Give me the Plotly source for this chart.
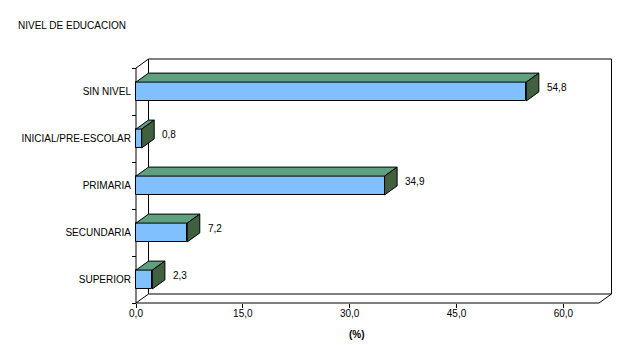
import plotly.graph_objects as go

# Education level distribution (%)
categories = ["SIN NIVEL", "INICIAL/PRE-ESCOLAR", "PRIMARIA", "SECUNDARIA", "SUPERIOR"]
values = [54.8, 0.8, 34.9, 7.2, 2.3]
x_ticks = [0, 15, 30, 45, 60]
x_tick_labels = ["0,0", "15,0", "30,0", "45,0", "60,0"]
x_max = 65

FONT = "Liberation Sans, Arial, sans-serif"
FRONT = "#80C0FF"
TOP = "#5FA080"
SIDE = "#406040"

W, H = 627, 345
# plot area in pixels (slightly padded around the 3D box)
PL, PR, PT, PB = 133, 615, 56, 306
FRONT_LEFT, FRONT_BOTTOM = 136, 303
FRONT_RIGHT, FRONT_TOP = 599, 68

kx = (FRONT_RIGHT - FRONT_LEFT) / x_max          # px per % unit
n = len(categories)
ky = (FRONT_BOTTOM - FRONT_TOP) / n               # px per category
DX = 12.5 / kx                                    # depth offset in data units
DY = 9.0 / ky

x_range = [(PL - FRONT_LEFT) / kx, (PR - FRONT_LEFT) / kx]
y_range = [-0.5 - (PB - FRONT_BOTTOM) / ky, n - 0.5 + (FRONT_TOP - PT) / ky]

# categories listed top to bottom; y position increases upward
ypos = [n - 1 - i for i in range(n)]
half = 0.2

fig = go.Figure()

# front faces
fig.add_trace(go.Bar(
    x=values, y=ypos, orientation="h", width=2 * half,
    marker=dict(color=FRONT, line=dict(color="black", width=1)),
    hoverinfo="skip", showlegend=False,
))

# top and side faces
for v, y in zip(values, ypos):
    top_x = [0, v, v + DX, DX, 0]
    top_y = [y + half, y + half, y + half + DY, y + half + DY, y + half]
    fig.add_trace(go.Scatter(
        x=top_x, y=top_y, mode="lines", fill="toself", fillcolor=TOP,
        line=dict(color="black", width=1), hoverinfo="skip", showlegend=False,
    ))
    side_x = [v, v + DX, v + DX, v, v]
    side_y = [y - half, y - half + DY, y + half + DY, y + half, y - half]
    fig.add_trace(go.Scatter(
        x=side_x, y=side_y, mode="lines", fill="toself", fillcolor=SIDE,
        line=dict(color="black", width=1), hoverinfo="skip", showlegend=False,
    ))

# walls and floor of the 3D box
y0, y1 = -0.5, n - 0.5
box_lines = [
    (DX, y0 + DY, x_max + DX, y0 + DY),           # back wall bottom
    (DX, y1 + DY, x_max + DX, y1 + DY),           # back wall top
    (DX, y0 + DY, DX, y1 + DY),                   # back wall left
    (x_max + DX, y0 + DY, x_max + DX, y1 + DY),   # back wall right
    (0, y0, x_max, y0),                           # floor front edge
    (x_max, y0, x_max + DX, y0 + DY),             # floor right edge
    (0, y0, DX, y0 + DY),                         # side wall bottom
    (0, y1, DX, y1 + DY),                         # side wall top
    (0, y0, 0, y1),                               # value axis line
]
for a, b, c, d in box_lines:
    fig.add_shape(type="line", x0=a, y0=b, x1=c, y1=d, xref="x", yref="y",
                  line=dict(color="black", width=1), layer="below")

# value labels
for v, y in zip(values, ypos):
    fig.add_annotation(
        x=v + DX, y=y + DY / 2, xref="x", yref="y",
        text=f"{v:.1f}".replace(".", ","), showarrow=False,
        xanchor="left", yanchor="middle", xshift=6,
        font=dict(family=FONT, size=10, color="black"),
    )

plot_w = PR - PL
plot_h = PB - PT

fig.add_annotation(
    x=(357 - PL) / plot_w, y=(PB - 334) / plot_h, xref="paper", yref="paper",
    text="<b>(%)</b>", showarrow=False, xanchor="center", yanchor="middle",
    font=dict(family=FONT, size=10, color="black"),
)

fig.update_layout(
    width=W, height=H,
    margin=dict(l=PL, r=W - PR, t=PT, b=H - PB, pad=0),
    paper_bgcolor="white", plot_bgcolor="white",
    title=dict(text="NIVEL DE EDUCACION", x=18 / W, xanchor="left", xref="container",
               y=1 - 25 / H, yanchor="middle", yref="container",
               font=dict(family=FONT, size=10, color="black")),
    xaxis=dict(
        range=x_range, anchor="free", position=(PB - FRONT_BOTTOM) / plot_h,
        tickmode="array", tickvals=x_ticks, ticktext=x_tick_labels,
        ticks="outside", ticklen=4, tickcolor="black", tickwidth=1,
        ticklabelstandoff=-3,
        showgrid=False, zeroline=False, showline=False,
        tickfont=dict(family=FONT, size=10, color="black"),
    ),
    yaxis=dict(
        range=y_range, anchor="free", position=(FRONT_LEFT - PL) / plot_w,
        tickmode="array", tickvals=ypos, ticktext=categories,
        ticks="", ticklabelstandoff=5,
        showgrid=False, zeroline=False, showline=False,
        minor=dict(tickmode="array", tickvals=[k - 0.5 for k in range(n + 1)],
                   ticks="outside", ticklen=4, tickcolor="black", tickwidth=1,
                   showgrid=False),
        tickfont=dict(family=FONT, size=10, color="black"),
    ),
    bargap=0,
)

fig.write_html("out.html")
